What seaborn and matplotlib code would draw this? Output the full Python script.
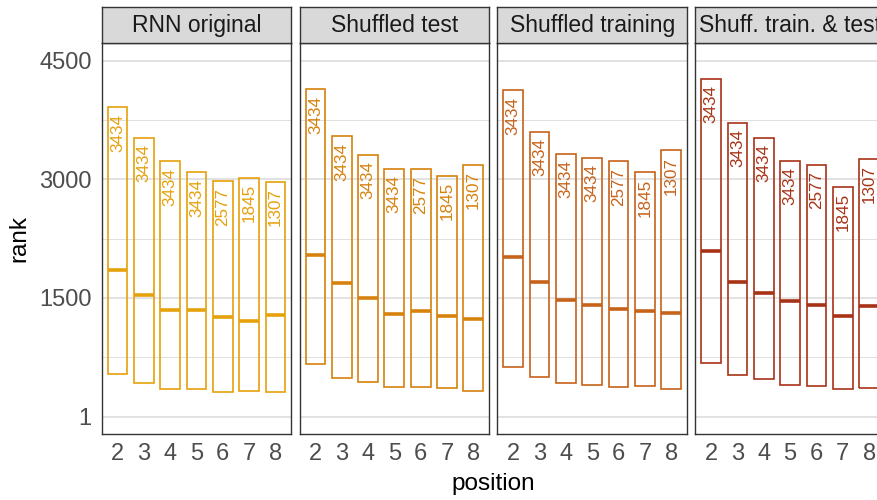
import numpy as np
import pandas as pd
import matplotlib
matplotlib.use("Agg")
import matplotlib.pyplot as plt
import seaborn as sns

# ---- data ----
panels = ["RNN original", "Shuffled test", "Shuffled training", "Shuff. train. & test"]
positions = [2, 3, 4, 5, 6, 7, 8]
counts = [3434, 3434, 3434, 3434, 2577, 1845, 1307]

upper_rnn = [3909, 3521, 3226, 3087, 2974, 3020, 2965]
median_rnn = [1858, 1542, 1352, 1343, 1264, 1208, 1284]
lower_rnn = [543, 425, 349, 349, 311, 320, 316]

upper_stest = [4136, 3542, 3306, 3129, 3125, 3046, 3184]
median_stest = [2038, 1688, 1495, 1297, 1340, 1268, 1230]
lower_stest = [661, 488, 433, 379, 379, 362, 329]

upper_strain = [4123, 3597, 3324, 3273, 3226, 3087, 3365]
median_strain = [2013, 1697, 1474, 1415, 1356, 1331, 1314]
lower_strain = [632, 497, 425, 400, 370, 392, 345]

upper_both = [4266, 3710, 3521, 3235, 3184, 2907, 3255]
median_both = [2093, 1701, 1567, 1457, 1415, 1276, 1394]
lower_both = [682, 522, 471, 404, 383, 345, 366]

colors = ["#E6A10B", "#D7820C", "#C7621A", "#A83216"]

y_breaks = [1, 1500, 3000, 4500]
y_minor = [750.5, 2250.5, 3750.5]

rows = []
for p, up, md, lo in zip(panels,
                         [upper_rnn, upper_stest, upper_strain, upper_both],
                         [median_rnn, median_stest, median_strain, median_both],
                         [lower_rnn, lower_stest, lower_strain, lower_both]):
    for pos, u, m, l, n in zip(positions, up, md, lo, counts):
        rows.append(dict(panel=p, position=pos, upper=u, med=m, lower=l, n=n))
df = pd.DataFrame(rows)

sns.set_theme(style="white")
plt.rcParams["font.family"] = ["Liberation Sans", "DejaVu Sans"]

W, H = 878, 500
fig = plt.figure(figsize=(W / 100, H / 100), dpi=100)

panel_left = [101.7, 299.6, 497.5, 695.4]
panel_w = 189.5
panel_top, panel_bot = 42.7, 434.3
strip_top = 7.3

border = "#333333"
grid_c = "#DADADA"
box_w = 0.75

for i, (pname, col) in enumerate(zip(panels, colors)):
    sub = df[df.panel == pname]
    ax = fig.add_axes([panel_left[i] / W, (H - panel_bot) / H,
                       panel_w / W, (panel_bot - panel_top) / H])
    ax.set_facecolor("white")
    ax.set_xlim(1.4, 8.6)
    ax.set_ylim(1 - 224.95, 4500 + 224.95)
    for y in y_minor:
        ax.axhline(y, color=grid_c, lw=0.6, zorder=0)
    for y in y_breaks:
        ax.axhline(y, color=grid_c, lw=1.1, zorder=0)

    ax.bar(sub["position"], sub["upper"] - sub["lower"], bottom=sub["lower"],
           width=box_w, fill=False, edgecolor=col, linewidth=1.2, zorder=2)
    ax.hlines(sub["med"].to_numpy(), (sub["position"] - box_w / 2).to_numpy(),
              (sub["position"] + box_w / 2).to_numpy(),
              color=col, linewidth=2.6, zorder=3)
    for _, r in sub.iterrows():
        ax.annotate(str(r["n"]), xy=(r["position"], r["upper"]), xytext=(0, -4.5),
                    textcoords="offset points", rotation=90, ha="center",
                    va="top", color=col, fontsize=12.3)

    ax.set_xticks(positions)
    ax.set_xticklabels([str(p) for p in positions])
    ax.set_yticks(y_breaks)
    if i == 0:
        ax.set_yticklabels([str(b) for b in y_breaks])
    else:
        ax.set_yticklabels([])
    ax.tick_params(axis="both", which="major", direction="out", colors=border,
                   labelcolor="#4D4D4D", labelsize=17, width=0.9, length=3.8,
                   pad=2.5)
    if i != 0:
        ax.tick_params(axis="y", length=0)
    ax.tick_params(axis="y", pad=3.5)
    ax.set_xlabel("")
    ax.set_ylabel("")
    ax.grid(False)
    for s in ax.spines.values():
        s.set_visible(True)
        s.set_color(border)
        s.set_linewidth(1.0)

    sax = fig.add_axes([panel_left[i] / W, (H - panel_top) / H,
                        panel_w / W, (panel_top - strip_top) / H])
    sax.set_facecolor("#D9D9D9")
    sax.set_xticks([])
    sax.set_yticks([])
    for s in sax.spines.values():
        s.set_visible(True)
        s.set_color(border)
        s.set_linewidth(1.0)
    sax.text(0.5, 0.48, pname, transform=sax.transAxes, ha="center",
             va="center", fontsize=16.5, color="#1A1A1A")

fig.text(19 / W, 1 - 238 / H, "rank", rotation=90, ha="center", va="center",
         fontsize=17.5, color="black")
fig.text(493 / W, 1 - 484 / H, "position", ha="center", va="center",
         fontsize=17.5, color="black")

fig.savefig("out.png", dpi=100)
